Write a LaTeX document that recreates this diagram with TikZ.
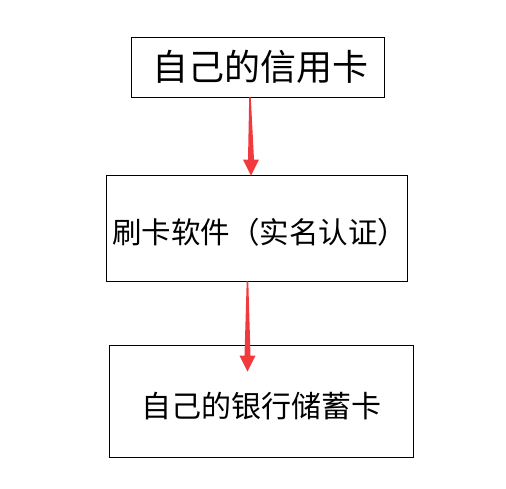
\documentclass[tikz,border=0pt]{standalone}
\usepackage{fontspec}
\setmainfont{Noto Sans CJK SC}
\usetikzlibrary{calc}
\definecolor{flowred}{RGB}{240,58,62}
\tikzset{
  box/.style={draw, line width=0.9pt, inner sep=0pt},
  flow/.style={fill=flowred, to path={
    let \p1=(\tikztostart), \p2=(\tikztotarget) in
    (\x1-0.8pt,\y1) -- (\x2-3pt,\y2+16pt) -- (\x2-8pt,\y2+16pt) -- (\x2,\y2)
      -- (\x2+8pt,\y2+16pt) -- (\x2+3pt,\y2+16pt) -- (\x1+0.8pt,\y1) -- cycle}}
}
\begin{document}
\begin{tikzpicture}[x=1pt, y=-1pt]
  \useasboundingbox (0,0) rectangle (506,488);
  \node (card) [box, minimum width=253pt, minimum height=60pt] at (257.5, 67) {\fontsize{36}{40}\selectfont\hspace{6pt}自己的信用卡};
  \node (app) [box, minimum width=301pt, minimum height=106pt, text height=30.4pt, text depth=0pt] at (256.5, 228) {\fontsize{29.5}{34}\selectfont\hspace{6pt}刷卡软件（实名认证）\hspace{-6pt}};
  \node (bank) [box, minimum width=304pt, minimum height=112pt, text height=32.8pt, text depth=0pt] at (261, 401) {\fontsize{30}{36}\selectfont 自己的银行储蓄卡};

  \fill[flow] ([xshift=-7.5pt]card.south) to ([xshift=-5.5pt,yshift=-1pt]app.north);
  \fill[flow] ([xshift=-9pt]app.south) to ([xshift=-13.5pt,yshift=-27pt]bank.north);
\end{tikzpicture}
\end{document}
